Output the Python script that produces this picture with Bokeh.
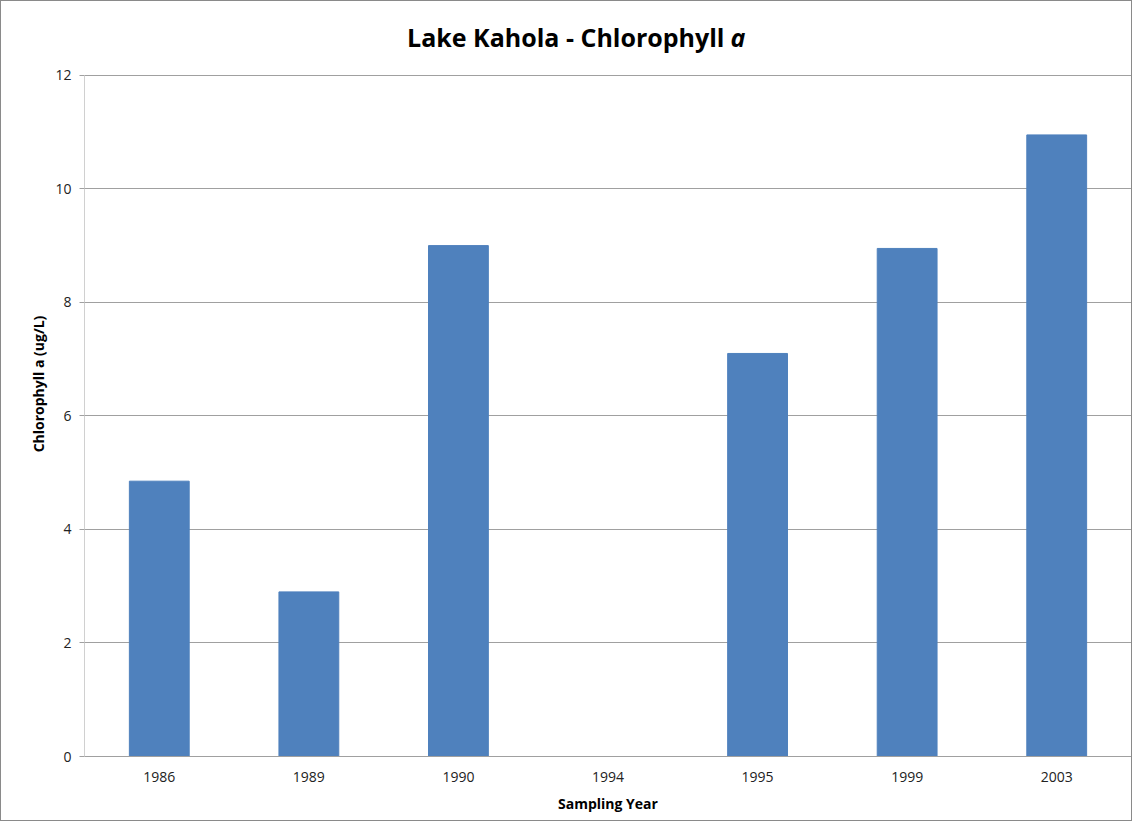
from bokeh.plotting import figure
from bokeh.models import Label, FixedTicker, Range1d
from bokeh.embed import file_html
from bokeh.resources import INLINE

years = ["1986", "1989", "1990", "1994", "1995", "1999", "2003"]
chl_a = [4.85, 2.90, 9.0, 0.0, 7.10, 8.95, 10.95]
y_ticks = [0, 2, 4, 6, 8, 10, 12]

FONT = "Open Sans"

# frame extended upward so the title (drawn as labels) lies inside it
p = figure(x_range=years, y_range=Range1d(0, 13.124), width=1132, height=821,
           output_backend="svg", toolbar_location=None,
           min_border_left=83, min_border_right=2, min_border_top=10, min_border_bottom=66)
p.styles = {"border": "1px solid #8a8a8a"}

p.vbar(x=years, top=chl_a, width=0.40, fill_color="#4F81BD", line_color="#4F81BD")

p.x_range.range_padding = 0
p.outline_line_color = None
p.xgrid.grid_line_color = None
p.ygrid.grid_line_color = "#A0A0A0"
p.ygrid.grid_line_width = 1

p.yaxis.ticker = FixedTicker(ticks=y_ticks)
p.yaxis.bounds = (0, 12)
p.yaxis.axis_line_color = "#D0D0D0"
p.yaxis.major_tick_line_color = "#A0A0A0"
p.yaxis.major_tick_out = 5
p.yaxis.major_tick_in = 0
p.yaxis.minor_tick_line_color = None
p.yaxis.major_label_standoff = 8
p.yaxis.axis_label = "Chlorophyll a (ug/L)"
p.yaxis.axis_label_standoff = 4

p.xaxis.axis_line_color = "#A0A0A0"
p.xaxis.major_tick_line_color = None
p.xaxis.major_label_standoff = 9
p.xaxis.axis_label = "Sampling Year"
p.xaxis.axis_label_standoff = 9

for ax in (p.xaxis, p.yaxis):
    ax.major_label_text_font = FONT
    ax.major_label_text_font_size = "14px"
    ax.major_label_text_color = "#222222"
    ax.axis_label_text_font = FONT
    ax.axis_label_text_font_size = "14px"
    ax.axis_label_text_font_style = "bold"
    ax.axis_label_text_color = "#000000"

t1 = Label(x=640, y=720, x_units="screen", y_units="screen",
           text="Lake Kahola - Chlorophyll", text_align="right",
           text_baseline="middle", text_font=FONT, text_font_size="25px",
           text_font_style="bold", text_color="#000000")
t2 = Label(x=646, y=720, x_units="screen", y_units="screen",
           text="a", text_align="left",
           text_baseline="middle", text_font=FONT, text_font_size="25px",
           text_font_style="bold italic", text_color="#000000")
p.add_layout(t1)
p.add_layout(t2)

open("out.html", "w").write(file_html(p, INLINE))
